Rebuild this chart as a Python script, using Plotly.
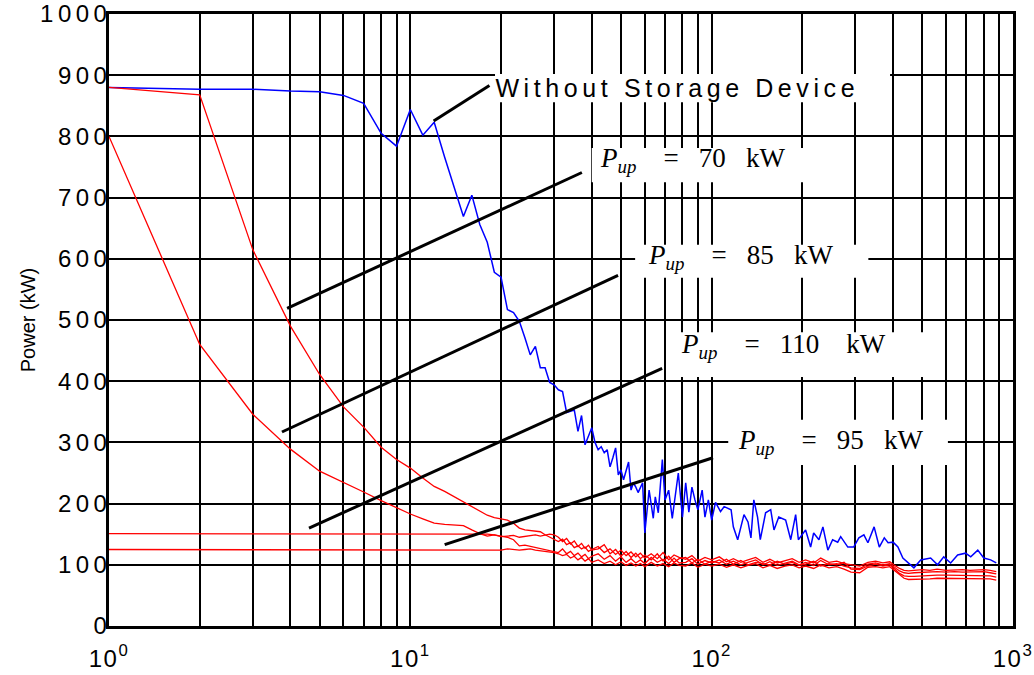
import plotly.graph_objects as go

# ---------------- data ----------------
blue_x = [1, 2, 3, 4, 5, 6, 7, 8, 9, 10, 11, 12, 13, 14, 15, 16, 17, 18, 19, 20,
          21, 22, 23, 24, 25, 26, 27, 28, 29, 30, 31, 32, 33, 34, 35, 36, 37, 38, 39, 40,
          41, 42, 43, 44, 45, 46, 47, 48, 49, 50, 51, 52, 53, 54, 55, 56, 57, 58, 59, 60,
          62, 64, 65, 66.5, 68.6, 70, 72, 74, 76, 77.5, 80, 82, 84, 86, 88, 90, 93, 95, 97.5, 100,
          103, 107, 110, 116, 118, 122, 128, 132, 135, 138, 142, 145, 151, 157, 161, 167, 176, 183, 190, 194,
          205, 213, 218, 227, 234, 243, 252, 262, 268, 283, 296, 308, 320, 330, 346, 360, 374, 385, 400, 415,
          431, 448, 469, 494, 533, 562, 589, 621, 655, 696, 724, 764, 800, 843, 880]
blue_y = [880, 877, 877, 874, 873, 867, 854, 805, 784, 844, 802, 823, 766, 717, 669, 704, 656, 627, 578, 570,
          517, 512, 498, 471, 443, 457, 422, 422, 398, 394, 386, 383, 349, 351, 353, 318, 344, 296, 310, 324,
          300, 288, 293, 283, 288, 260, 275, 291, 247, 255, 239, 252, 268, 222, 234, 227, 218, 226, 234, 152,
          222, 176, 211, 185, 272, 206, 222, 176, 214, 250, 178, 234, 186, 227, 206, 190, 222, 178, 206, 173,
          202, 187, 195, 190, 162, 141, 182, 170, 144, 206, 178, 141, 185, 190, 157, 178, 173, 141, 182, 141,
          157, 129, 152, 141, 162, 124, 141, 137, 146, 129, 129, 144, 149, 136, 162, 129, 144, 136, 137, 129,
          111, 103, 95, 108, 111, 100, 113, 103, 116, 119, 113, 124, 111, 108, 103]

red_tail_x = [31, 32, 33, 34, 35, 36, 37, 38, 39, 40,
              42, 44, 46, 48, 50, 52, 54, 56, 58, 60,
              63, 66, 69, 72, 75, 78,
              82, 86, 90, 95, 100,
              106, 112, 118, 125, 132, 140, 148, 156, 165, 175, 185, 195,
              205, 218, 230, 245, 260, 275, 290, 310, 330, 350, 370, 390,
              405, 420, 435, 450, 470, 500, 530, 560, 600, 640, 680, 720, 760, 800, 840, 880]

red_a_head_x = [1, 2, 3, 4, 5, 6, 7, 8, 9, 10, 11, 12, 13, 14, 15,
                16, 17, 18, 19, 20, 21, 22, 23, 24, 25, 26, 27, 28, 29, 30]
red_a_head_y = [880, 868, 615, 490, 411, 358, 325, 292, 272, 258, 242, 228, 220, 211, 203,
                196, 188, 181, 177, 175, 173, 168, 160, 157, 156, 155, 154, 149, 145, 141]
red_a_tail_y = [138, 142, 133, 136, 128, 131, 126, 129, 122, 125,
                130, 120, 126, 117, 124, 115, 121, 113, 119, 111,
                118, 110, 120, 108, 116, 112,
                109, 115, 106, 112, 108,
                113, 105, 110, 104, 108, 112, 104, 109, 103, 107, 110, 104,
                108, 103, 111, 104, 106, 102, 100, 98, 104, 106, 103, 105,
                99, 94, 91, 90, 91, 92, 91, 93, 91, 92, 92, 91, 92, 92, 91, 89]

red_b_head_x = [1, 2, 3, 4, 5, 6, 7, 8, 9, 10, 11, 12, 13, 14, 15,
                16, 17, 18, 19, 20, 21, 22, 23, 24, 25, 26, 27, 28, 29, 30]
red_b_head_y = [800, 460, 346, 289, 253, 235, 219, 205, 193, 183, 175, 168, 166, 165, 164,
                157, 151, 147, 149, 147, 145, 141, 131, 132, 130, 128, 127, 125, 123, 121]
red_b_tail_y = [120, 126, 118, 122, 115, 119, 113, 117, 110, 114,
                118, 109, 115, 106, 113, 104, 110, 103, 108, 102,
                112, 104, 109, 102, 111, 103,
                104, 110, 101, 107, 103,
                108, 101, 106, 100, 104, 108, 100, 105, 99, 103, 106, 100,
                104, 99, 107, 100, 102, 98, 95, 94, 101, 103, 100, 102,
                96, 90, 87, 86, 87, 88, 88, 89, 88, 89, 88, 88, 88, 89, 87, 85]

red_c_head_x = [1, 17, 18, 19, 20, 21, 22, 23, 24, 25, 26, 27, 28, 29, 30]
red_c_head_y = [151, 151, 150, 149, 146, 147, 148, 145, 146, 148, 149, 147, 148, 150, 149]
red_c_tail_y = [145, 138, 143, 134, 139, 130, 135, 127, 132, 124,
                126, 133, 118, 125, 114, 122, 112, 119, 110, 116,
                108, 118, 106, 114, 104, 110,
                112, 103, 109, 101, 106,
                103, 109, 101, 107, 100, 104, 102, 100, 106, 101, 104, 99,
                101, 106, 98, 102, 100, 104, 93, 92, 98, 101, 98, 100,
                93, 86, 82, 81, 81, 82, 82, 83, 83, 83, 83, 82, 83, 83, 82, 80]

red_d_head_x = [1, 19, 20, 21, 22, 23, 24, 25, 26, 27, 28, 29, 30]
red_d_head_y = [125, 125, 124, 126, 125, 124, 125, 126, 124, 123, 122, 121, 120]
red_d_tail_y = [118, 115, 117, 111, 114, 108, 112, 106, 110, 104,
                108, 102, 106, 100, 105, 99, 103, 98, 102, 97,
                104, 98, 102, 97, 103, 99,
                98, 103, 96, 101, 98,
                101, 96, 100, 95, 99, 102, 95, 99, 94, 98, 100, 95,
                98, 94, 100, 95, 97, 93, 88, 87, 96, 97, 95, 97,
                90, 83, 78, 76, 76, 77, 77, 78, 78, 78, 78, 77, 78, 78, 77, 75]

# pointer lines of the labels (data coordinates: x, kW)
ptr_without_x = [11.95, 18.3]
ptr_without_y = [825, 883]
ptr_70_x = [3.90, 37.1]
ptr_70_y = [519, 741]
ptr_85_x = [3.75, 48.9]
ptr_85_y = [317, 573]
ptr_110_x = [4.61, 68.5]
ptr_110_y = [160, 421]
ptr_95_x = [13.0, 101]
ptr_95_y = [133, 275]

x_tickvals = [1, 10, 100, 1000]
x_ticktext = ["10<sup>0</sup>", "10<sup>1</sup>", "10<sup>2</sup>", "10<sup>3</sup>"]
x_minor_vals = [2, 3, 4, 5, 6, 7, 8, 9,
                20, 30, 40, 50, 60, 70, 80, 90,
                200, 300, 400, 500, 600, 700, 800, 900]
y_tickvals = [0, 100, 200, 300, 400, 500, 600, 700, 800, 900, 1000]
y_ticktext = ["0", "100", "200", "300", "400", "500", "600", "700", "800", "900", "1000"]

label_without = "Without Storage Device"
NB = "\u00a0"
label_70 = "<i>P</i><sub><i>up</i></sub>" + NB * 4 + "=" + NB * 3 + "70" + NB * 3 + "kW"
label_85 = "<i>P</i><sub><i>up</i></sub>" + NB * 4 + "=" + NB * 3 + "85" + NB * 3 + "kW"
label_110 = "<i>P</i><sub><i>up</i></sub>" + NB * 4 + "=" + NB * 3 + "110" + NB * 4 + "kW"
label_95 = "<i>P</i><sub><i>up</i></sub>" + NB * 4 + "=" + NB * 3 + "95" + NB * 3 + "kW"

# ---------------- figure ----------------
fig = go.Figure()

fig.add_trace(go.Scatter(x=blue_x, y=blue_y, mode="lines",
                         line=dict(color="#0000ff", width=1.5),
                         showlegend=False, hoverinfo="skip"))

reds = [
    (red_a_head_x + red_tail_x, red_a_head_y + red_a_tail_y),
    (red_b_head_x + red_tail_x, red_b_head_y + red_b_tail_y),
    (red_c_head_x + red_tail_x, red_c_head_y + red_c_tail_y),
    (red_d_head_x + red_tail_x, red_d_head_y + red_d_tail_y),
]
for rx, ry in reds:
    fig.add_trace(go.Scatter(x=rx, y=ry, mode="lines",
                             line=dict(color="#ff0000", width=1.3),
                             showlegend=False, hoverinfo="skip"))

for px_, py_ in [(ptr_without_x, ptr_without_y), (ptr_70_x, ptr_70_y),
                 (ptr_85_x, ptr_85_y), (ptr_110_x, ptr_110_y), (ptr_95_x, ptr_95_y)]:
    fig.add_trace(go.Scatter(x=px_, y=py_, mode="lines",
                             line=dict(color="black", width=3),
                             showlegend=False, hoverinfo="skip"))

# white boxes behind labels (paper coordinates)
boxes = [
    (0.427, 0.864, 0.856, 0.902),
    (0.534, 0.768, 0.725, 0.781),
    (0.582, 0.840, 0.569, 0.623),
    (0.621, 0.914, 0.407, 0.480),
    (0.685, 0.928, 0.263, 0.337),
]
for x0, x1, y0, y1 in boxes:
    fig.add_shape(type="rect", xref="paper", yref="paper", x0=x0, x1=x1, y0=y0, y1=y1,
                  fillcolor="white", line=dict(width=0), layer="above")

serif = dict(family="Liberation Serif, Times New Roman, serif", size=27, color="black")
fig.add_annotation(text=label_without, xref="paper", yref="paper", x=0.629, y=0.879,
                   xanchor="center", yanchor="middle", showarrow=False,
                   font=dict(family="Liberation Sans, Arial, sans-serif", size=25, color="black"))
for txt, xp, yp in [(label_70, 0.541, 0.761), (label_85, 0.594, 0.603),
                    (label_110, 0.630, 0.458), (label_95, 0.694, 0.300)]:
    fig.add_annotation(text=txt, xref="paper", yref="paper", x=xp, y=yp,
                       xanchor="left", yanchor="middle", showarrow=False, font=serif)

axfont = dict(family="Liberation Sans, Arial, sans-serif", size=24, color="black")
fig.update_xaxes(type="log", range=[0, 3], tickvals=x_tickvals, ticktext=x_ticktext,
                 showgrid=True, gridcolor="black", gridwidth=1.5,
                 minor=dict(tickvals=x_minor_vals, showgrid=True, gridcolor="black", gridwidth=1.5, ticks=""),
                 showline=True, linecolor="black", linewidth=2.5, mirror=True,
                 ticks="", zeroline=False, ticklabelstandoff=9, tickfont=axfont,
                 automargin=False)
fig.update_yaxes(range=[0, 1000], tickvals=y_tickvals, ticktext=y_ticktext,
                 showgrid=True, gridcolor="black", gridwidth=1.5,
                 showline=True, linecolor="black", linewidth=2.5, mirror=True,
                 ticks="", zeroline=False, ticklabelstandoff=-10, tickfont=axfont,
                 automargin=False,
                 title=dict(text="Power (kW)", standoff=18,
                            font=dict(family="Liberation Sans, Arial, sans-serif", size=20, color="black")))

fig.update_layout(width=1034, height=675, margin=dict(l=109, r=21, t=14, b=49),
                  plot_bgcolor="white", paper_bgcolor="white")

post = """
var st = document.createElement('style');
st.textContent = '.ytick text { letter-spacing: 4.5px; } .xtick text { letter-spacing: 1.5px; }';
document.head.appendChild(st);
var gd = document.getElementById('{plot_id}');
gd.querySelectorAll('.annotation-text').forEach(function(t){
  if (t.textContent.indexOf('Without') >= 0) { t.style.letterSpacing = '4.6px'; }
});
"""
fig.write_html("out.html", post_script=post, config={"displayModeBar": False})
